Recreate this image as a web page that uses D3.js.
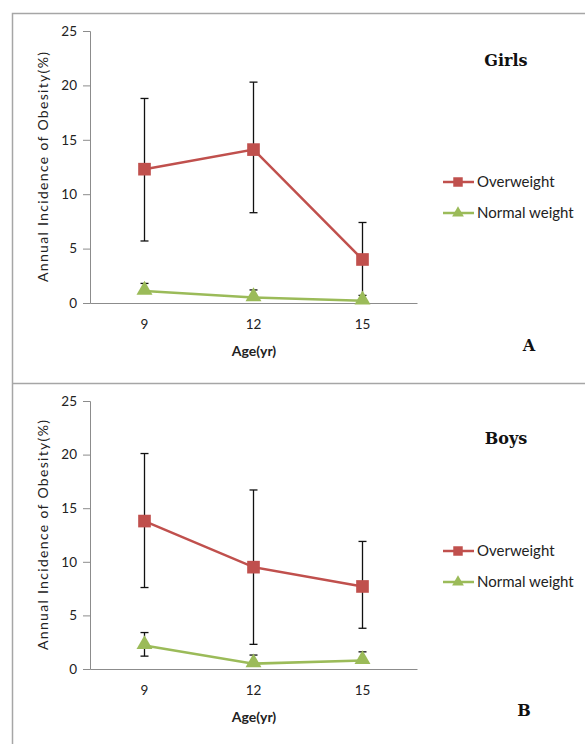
<!DOCTYPE html>
<html>
<head>
<meta charset="utf-8">
<script src="https://cdn.jsdelivr.net/npm/d3@7"></script>
<style>
  body { margin: 0; background: #fff; }
  svg text { font-family: Lato, "Open Sans", sans-serif; }
</style>
</head>
<body>
<div id="chart"></div>
<script>
// ages on the x axis
const ages = ["9", "12", "15"]
const yTicks = [0, 5, 10, 15, 20, 25]
const seriesNames = ["Overweight", "Normal weight"]

// Girls (panel A)
const girlsOver = [12.3, 14.1, 4.0]
const girlsOverHi = [18.8, 20.3, 7.4]
const girlsOverLo = [5.7, 8.3, 0.7]
const girlsNormal = [1.1, 0.5, 0.2]
const girlsNormalHi = [1.8, 1.2, 0.2]
const girlsNormalLo = [1.1, 0.5, 0.2]

// Boys (panel B)
const boysOver = [13.8, 9.5, 7.7]
const boysOverHi = [20.1, 16.7, 11.9]
const boysOverLo = [7.6, 2.3, 3.8]
const boysNormal = [2.2, 0.5, 0.8]
const boysNormalHi = [3.4, 1.3, 1.6]
const boysNormalLo = [1.2, 0.5, 0.8]

const width = 585
const height = 744

const svg = d3.select("#chart").append("svg")
    .attr("width", width)
    .attr("height", height)

// panel frames
svg.append("path")
    .attr("d", "M12.5,744 V13.5 H585 M12.5,383.5 H585")
    .attr("fill", "none")
    .attr("stroke", "#a6a6a6")
    .attr("stroke-width", 1.5)

const red = "#c0504d"
const green = "#9bbb59"

function drawPanel(p) {
    const x = d3.scaleBand().domain(ages).range([90, 417])
    const y = d3.scaleLinear().domain([0, 25]).range([p.y0, p.y25])

    const g = svg.append("g")

    // y axis
    const yAxis = g.append("g")
        .attr("transform", "translate(90,0)")
        .call(d3.axisLeft(y).tickValues(yTicks).tickSize(7).tickPadding(6))
    yAxis.select(".domain").attr("stroke", "#8c8c8c")
    yAxis.selectAll(".tick line").attr("stroke", "#8c8c8c")
    yAxis.selectAll("text").attr("font-size", 13.5).attr("fill", "#222")
        .style("font-family", "Lato, sans-serif")

    // x axis
    const xAxis = g.append("g")
        .attr("transform", `translate(0,${p.y0})`)
        .call(d3.axisBottom(x).tickSize(0).tickPadding(16))
    xAxis.select(".domain").attr("stroke", "#8c8c8c")
    xAxis.selectAll("text").attr("font-size", 13.5).attr("fill", "#222")
        .style("font-family", "Lato, sans-serif")

    const cx = d => x(d) + x.bandwidth() / 2

    g.append("text")
        .attr("x", 254)
        .attr("y", p.y0 + 53)
        .attr("text-anchor", "middle")
        .attr("font-size", 14)
        .attr("font-weight", "bold")
        .attr("fill", "#222")
        .text("Age(yr)")

    g.append("text")
        .attr("transform", `translate(48,${(p.y0 + p.y25) / 2}) rotate(-90)`)
        .attr("text-anchor", "middle")
        .attr("font-size", 14)
        .attr("fill", "#222")
        .attr("textLength", 230)
        .text("Annual Incidence of Obesity(%)")

    const line = d3.line()
        .x((d, i) => cx(ages[i]))
        .y(d => y(d))

    // lines
    g.append("path").datum(p.over)
        .attr("d", line).attr("fill", "none")
        .attr("stroke", red).attr("stroke-width", 2.5)
    g.append("path").datum(p.normal)
        .attr("d", line).attr("fill", "none")
        .attr("stroke", green).attr("stroke-width", 2.5)

    // error bars
    const bars = []
    ages.forEach((a, i) => {
        bars.push({ a, hi: p.overHi[i], lo: p.overLo[i] })
        bars.push({ a, hi: p.normalHi[i], lo: p.normalLo[i] })
    })
    bars.forEach(b => {
        const xx = cx(b.a)
        g.append("line")
            .attr("x1", xx).attr("x2", xx)
            .attr("y1", y(b.hi)).attr("y2", y(b.lo))
            .attr("stroke", "#111").attr("stroke-width", 1.3)
        ;[b.hi, b.lo].forEach(v => {
            g.append("line")
                .attr("x1", xx - 4).attr("x2", xx + 4)
                .attr("y1", y(v)).attr("y2", y(v))
                .attr("stroke", "#111").attr("stroke-width", 1.3)
        })
    })

    // markers
    const square = d3.symbol().type(d3.symbolSquare).size(160)
    const tri = d3.symbol().type(d3.symbolTriangle).size(110)
    g.selectAll(".sq").data(p.over).enter().append("path")
        .attr("d", square)
        .attr("transform", (d, i) => `translate(${cx(ages[i])},${y(d)})`)
        .attr("fill", red)
    g.selectAll(".tr").data(p.normal).enter().append("path")
        .attr("d", tri)
        .attr("transform", (d, i) => `translate(${cx(ages[i])},${y(d) - 1})`)
        .attr("fill", green)

    // legend
    const legend = g.append("g")
    seriesNames.forEach((name, i) => {
        const ly = p.legendY + i * 31
        const col = i == 0 ? red : green
        legend.append("line")
            .attr("x1", 443).attr("x2", 474)
            .attr("y1", ly).attr("y2", ly)
            .attr("stroke", col).attr("stroke-width", 2.5)
        legend.append("path")
            .attr("d", i == 0 ? d3.symbol().type(d3.symbolSquare).size(90)() : d3.symbol().type(d3.symbolTriangle).size(60)())
            .attr("transform", `translate(458,${ly})`)
            .attr("fill", col)
        legend.append("text")
            .attr("x", 477)
            .attr("y", ly)
            .attr("dy", "0.35em")
            .attr("font-size", 15)
            .attr("fill", "#222")
            .text(name)
    })

    // panel title and letter
    g.append("text")
        .attr("x", 506).attr("y", p.titleY)
        .attr("text-anchor", "middle")
        .attr("font-size", 16)
        .attr("font-weight", "bold")
        .style("font-family", "'DejaVu Serif', serif")
        .attr("fill", "#111")
        .text(p.title)
    g.append("text")
        .attr("x", p.letterX).attr("y", p.letterY)
        .attr("text-anchor", "middle")
        .attr("font-size", 16)
        .attr("font-weight", "bold")
        .style("font-family", "'DejaVu Serif', serif")
        .attr("fill", "#111")
        .text(p.letter)
}

drawPanel({
    y0: 303, y25: 31,
    over: girlsOver, overHi: girlsOverHi, overLo: girlsOverLo,
    normal: girlsNormal, normalHi: girlsNormalHi, normalLo: girlsNormalLo,
    legendY: 182, title: "Girls", titleY: 66, letter: "A", letterX: 529, letterY: 351
})

drawPanel({
    y0: 669, y25: 401,
    over: boysOver, overHi: boysOverHi, overLo: boysOverLo,
    normal: boysNormal, normalHi: boysNormalHi, normalLo: boysNormalLo,
    legendY: 551, title: "Boys", titleY: 444, letter: "B", letterX: 524, letterY: 716
})
</script>
</body>
</html>
